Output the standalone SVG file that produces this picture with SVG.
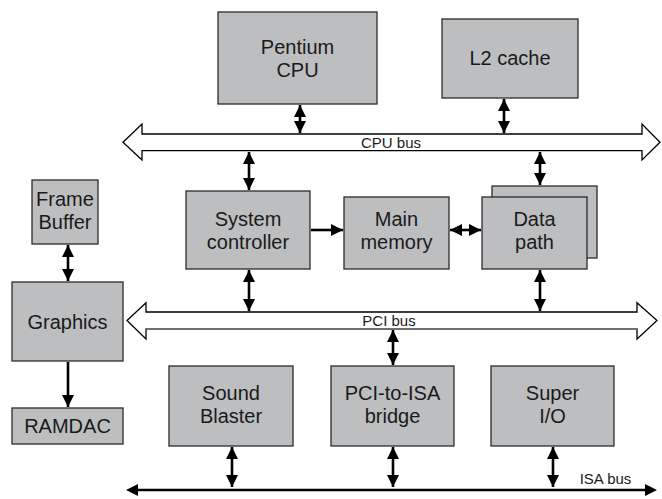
<svg xmlns="http://www.w3.org/2000/svg" width="662" height="499" viewBox="0 0 662 499">
<style>
.box{fill:#bdbec0;stroke:#2b2b2b;stroke-width:1.3}
.lbl{font-family:"Liberation Sans",Arial,sans-serif;font-size:20px;fill:#1a1a1a;text-anchor:middle}
.bus{font-family:"Liberation Sans",Arial,sans-serif;font-size:15px;fill:#1a1a1a;text-anchor:middle}
.c{stroke:#000;stroke-width:2.6;fill:none}
.busshape{fill:#fff;stroke:#000;stroke-width:1.3}
</style>
<defs>
<marker id="ah" markerUnits="userSpaceOnUse" markerWidth="12" markerHeight="12" refX="10" refY="5" orient="auto-start-reverse" viewBox="0 0 10 10">
<path d="M0,0 L10,5 L0,10 Z" fill="#000"/>
</marker>
</defs>
<rect width="662" height="499" fill="#fff"/>

<g id="cpu-bus">
<path class="busshape" d="M123,142.3 L142,124 L142,134 L642,134 L642,124 L660,142.3 L642,160 L642,150.7 L142,150.7 L142,160 Z"/>
<text class="bus" x="391" y="147.5">CPU bus</text>
</g>
<g id="pci-bus">
<path class="busshape" d="M127,320.5 L146,302.7 L146,312 L637,312 L637,302.7 L657,320.5 L637,339 L637,329 L146,329 L146,339 Z"/>
<line x1="146" y1="329" x2="637" y2="329" stroke="#808080" stroke-width="1.6"/>
<text class="bus" x="389" y="326">PCI bus</text>
</g>
<g id="isa-bus">
<line class="c" x1="136" y1="490" x2="647" y2="490" stroke-width="2.8"/>
<path d="M126,490 L138,484 L138,496 Z M657,490 L645,484 L645,496 Z" fill="#000"/>
<text class="bus" x="605.5" y="483.5">ISA bus</text>
</g>

<g id="pentium"><rect class="box" x="218" y="12" width="159" height="92"/><text class="lbl" x="297.5" y="53.5">Pentium</text><text class="lbl" x="297.5" y="76.5">CPU</text></g>
<g id="l2cache"><rect class="box" x="442" y="19" width="136" height="79"/><text class="lbl" x="510" y="65">L2 cache</text></g>
<g id="sysctrl"><rect class="box" x="186" y="191" width="124" height="78"/><text class="lbl" x="248" y="226">System</text><text class="lbl" x="248" y="249">controller</text></g>
<g id="mainmem"><rect class="box" x="344" y="197" width="105" height="72"/><text class="lbl" x="396.5" y="226">Main</text><text class="lbl" x="396.5" y="249">memory</text></g>
<g id="datapath"><rect class="box" x="492" y="186" width="105" height="72"/><rect class="box" x="482" y="197" width="105" height="72"/><text class="lbl" x="534.5" y="226">Data</text><text class="lbl" x="534.5" y="249">path</text></g>
<g id="framebuf"><rect class="box" x="32" y="180" width="66" height="64"/><text class="lbl" x="65" y="206">Frame</text><text class="lbl" x="65" y="229">Buffer</text></g>
<g id="graphics"><rect class="box" x="12" y="282" width="111" height="79"/><text class="lbl" x="67.5" y="328.5">Graphics</text></g>
<g id="ramdac"><rect class="box" x="12" y="408" width="111" height="36"/><text class="lbl" x="67.5" y="433">RAMDAC</text></g>
<g id="sound"><rect class="box" x="169" y="366" width="124" height="80"/><text class="lbl" x="231" y="400">Sound</text><text class="lbl" x="231" y="423">Blaster</text></g>
<g id="pci2isa"><rect class="box" x="331" y="366" width="123" height="80"/><text class="lbl" x="392.5" y="400">PCI-to-ISA</text><text class="lbl" x="392.5" y="423">bridge</text></g>
<g id="superio"><rect class="box" x="491" y="366" width="123" height="80"/><text class="lbl" x="552.5" y="400">Super</text><text class="lbl" x="552.5" y="423">I/O</text></g>

<g id="connectors">
<line class="c" x1="300" y1="105" x2="300" y2="133" marker-start="url(#ah)" marker-end="url(#ah)"/>
<line class="c" x1="504" y1="99" x2="504" y2="133" marker-start="url(#ah)" marker-end="url(#ah)"/>
<line class="c" x1="249" y1="152" x2="249" y2="190" marker-start="url(#ah)" marker-end="url(#ah)"/>
<line class="c" x1="540" y1="152" x2="540" y2="185" marker-start="url(#ah)" marker-end="url(#ah)"/>
<line class="c" x1="311" y1="230" x2="343" y2="230" marker-end="url(#ah)"/>
<line class="c" x1="450" y1="230" x2="481" y2="230" marker-start="url(#ah)" marker-end="url(#ah)"/>
<line class="c" x1="249" y1="270" x2="249" y2="311" marker-start="url(#ah)" marker-end="url(#ah)"/>
<line class="c" x1="540" y1="270" x2="540" y2="311" marker-start="url(#ah)" marker-end="url(#ah)"/>
<line class="c" x1="393" y1="330" x2="393" y2="365" marker-start="url(#ah)" marker-end="url(#ah)"/>
<line class="c" x1="68" y1="245" x2="68" y2="281" marker-start="url(#ah)" marker-end="url(#ah)"/>
<line class="c" x1="68" y1="362" x2="68" y2="407" marker-end="url(#ah)"/>
<line class="c" x1="232" y1="447" x2="232" y2="487" marker-start="url(#ah)" marker-end="url(#ah)"/>
<line class="c" x1="393" y1="447" x2="393" y2="487" marker-start="url(#ah)" marker-end="url(#ah)"/>
<line class="c" x1="553" y1="447" x2="553" y2="487" marker-start="url(#ah)" marker-end="url(#ah)"/>
</g>
</svg>
